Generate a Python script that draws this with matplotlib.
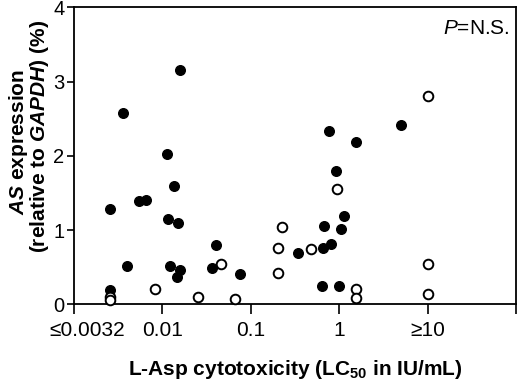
import matplotlib
matplotlib.use("Agg")
import matplotlib.pyplot as plt
import matplotlib.transforms as mtransforms

plt.rcParams['font.family'] = ['Liberation Sans', 'DejaVu Sans']
plt.rcParams['mathtext.fontset'] = 'custom'
plt.rcParams['mathtext.rm'] = 'Liberation Sans'
plt.rcParams['mathtext.it'] = 'Liberation Sans:italic'
plt.rcParams['mathtext.bf'] = 'Liberation Sans:bold'
plt.rcParams['mathtext.bfit'] = 'Liberation Sans:italic:bold'

# Filled circles
filled_x = [0.0158, 0.00357, 0.01127, 0.01365, 0.0054, 0.00654, 0.00257, 0.0117, 0.0149,
            0.0406, 0.00399, 0.0123, 0.01567, 0.01476, 0.0363, 0.0758, 0.00257, 0.339,
            0.649, 0.811, 0.671, 1.052, 1.137, 0.916, 0.757, 1.54, 4.95, 0.631, 1.007]
filled_y = [3.16, 2.58, 2.02, 1.60, 1.395, 1.405, 1.28, 1.153, 1.09,
            0.80, 0.516, 0.52, 0.462, 0.363, 0.493, 0.408, 0.193, 0.695,
            0.754, 0.812, 1.059, 1.014, 1.193, 1.79, 2.334, 2.19, 2.415, 0.25, 0.25]

# Open circles
open_x = [0.00257, 0.00257, 0.00826, 0.0255, 0.0666, 0.0462, 0.225, 0.203, 0.2015,
          0.483, 0.955, 10.07, 10.07, 10.07, 1.567, 1.567]
open_y = [0.10, 0.06, 0.206, 0.094, 0.071, 0.547, 1.04, 0.754, 0.417,
          0.74, 1.557, 2.81, 0.543, 0.135, 0.21, 0.089]

xticks = [0.001, 0.01, 0.1, 1, 10, 100]
xtick_labels = ["≤0.0032", "0.01", "0.1", "1", "≥10", ""]
yticks = [0, 1, 2, 3, 4]

fig = plt.figure(figsize=(5.2, 3.85), dpi=100)
ax = fig.add_axes([0.1423, 0.2096, 0.8500, 0.7714])

ax.scatter(filled_x, filled_y, s=48, facecolor='black', edgecolor='black', linewidths=1.0, zorder=3, clip_on=False)
ax.scatter(open_x, open_y, s=48, facecolor='white', edgecolor='black', linewidths=1.4, zorder=4, clip_on=False)

ax.set_xscale('log')
ax.set_xlim(0.001, 100)
ax.set_ylim(0, 4)
ax.set_xticks(xticks)
ax.set_xticklabels(xtick_labels)
ax.minorticks_off()
ax.set_yticks(yticks)
ax.set_yticklabels([str(v) for v in yticks])
ax.tick_params(axis='x', direction='out', length=7, width=1.2, labelsize=15, pad=5, colors='black')
ax.tick_params(axis='y', direction='out', length=5, width=1.2, labelsize=14.5, pad=2, colors='black')
for sp in ax.spines.values():
    sp.set_linewidth(1.3)

# shift the first x tick label right
lbl = ax.get_xticklabels()[0]
lbl.set_transform(lbl.get_transform() + mtransforms.ScaledTranslation(13/100, 0, fig.dpi_scale_trans))

ax.set_xlabel(r"L-Asp cytotoxicity (LC$_{\mathbf{50}}$ in IU/mL)", fontsize=15, fontweight='bold', labelpad=13)

fig.text(19/520, 1 - 142/385, r"$\mathbfit{AS}$ expression", rotation=90, ha='center', va='center',
         fontsize=15, fontweight='bold')
fig.text(40/520, 1 - 136/385, r"(relative to $\mathbfit{GAPDH}$) (%)", rotation=90, ha='center', va='center',
         fontsize=15, fontweight='bold')

ax.text(0.985, 0.93, r"$\mathit{P}$=N.S.", transform=ax.transAxes, ha='right', va='center', fontsize=15)

fig.savefig("out.png", dpi=100)
